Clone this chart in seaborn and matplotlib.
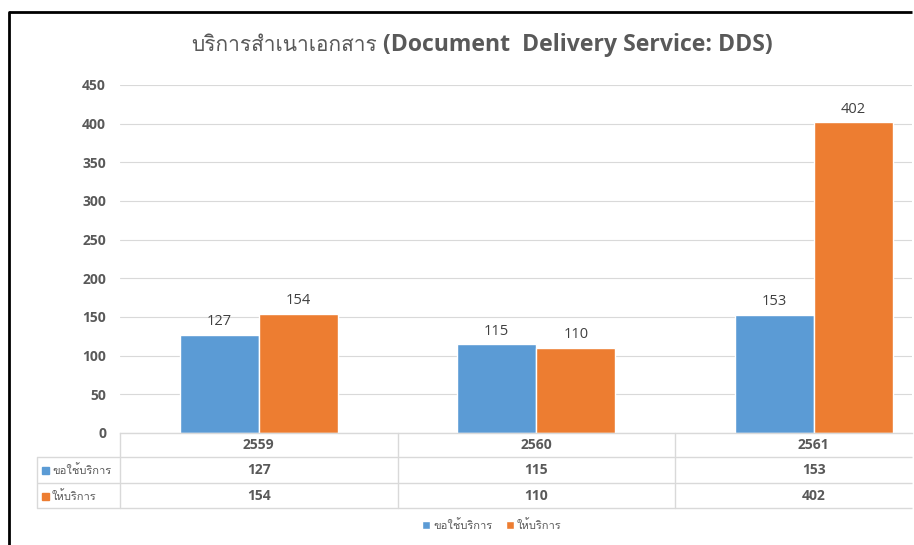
import matplotlib
matplotlib.use('Agg')
import matplotlib.pyplot as plt
import pandas as pd
import seaborn as sns
from matplotlib import font_manager
from matplotlib.ft2font import FT2Font
from matplotlib.lines import Line2D
from matplotlib.patches import Patch
from matplotlib.transforms import blended_transform_factory

# data
years = ['2559', '2560', '2561']
requested = [127, 115, 153]
provided = [154, 110, 402]
series_names = ['ขอใช้บริการ', 'ให้บริการ']
title_th = 'บริการสำเนาเอกสาร'
title_en = '(Document  Delivery Service: DDS)'
y_ticks = [0, 50, 100, 150, 200, 250, 300, 350, 400, 450]

BLUE = '#5B9BD5'
ORANGE = '#ED7D31'
TEXT = '#595959'
GRID = '#D9D9D9'


def has_thai(path):
    try:
        return 0x0E1A in FT2Font(path).get_charmap()
    except Exception:
        return False


thai_fonts = []
for f in font_manager.fontManager.ttflist:
    if f.name not in thai_fonts and has_thai(f.fname):
        thai_fonts.append(f.name)

sns.set_theme(style='white')
families = ['Open Sans'] + thai_fonts[:1] + ['DejaVu Sans']
plt.rcParams['font.family'] = families
th_family = thai_fonts[:1] + ['DejaVu Sans']

W, H = 914, 545
RIGHT = 912  # last pixel column used by lines


def fx(px):
    return px / W


def fy(py):
    return 1 - py / H


data = pd.DataFrame({
    'year': years * 2,
    'value': requested + provided,
    'series': [series_names[0]] * 3 + [series_names[1]] * 3,
})

fig = plt.figure(figsize=(9.14, 5.45), dpi=100)
# plot area runs past the right edge of the picture in the reference,
# so keep the axes inside the figure and trim the x range instead
ax = fig.add_axes([fx(120), fy(433), (RIGHT - 120) / W, (433 - 85) / H])

sns.barplot(data=data, x='year', y='value', hue='series', order=years,
            hue_order=series_names, palette=[BLUE, ORANGE], width=0.57,
            saturation=1, legend=False, ax=ax)

for cont in ax.containers:
    ax.bar_label(cont, padding=4, fontsize=10.5, color='#404040')

ax.set_xlim(-0.5, -0.5 + (RIGHT - 120) / 277.5)
ax.set_ylim(0, 450)
ax.set_yticks(y_ticks)
ax.set_yticklabels([str(t) for t in y_ticks], fontsize=10, color=TEXT,
                   fontweight='bold')
ax.tick_params(axis='y', length=0, pad=10)
ax.set_xticks([])
ax.set_xlabel('')
ax.set_ylabel('')
ax.yaxis.grid(True, color=GRID, linewidth=0.8)
ax.set_axisbelow(True)
for side in ['top', 'right', 'left']:
    ax.spines[side].set_visible(False)
ax.spines['bottom'].set_color(GRID)
ax.spines['bottom'].set_linewidth(1)

# data table under the plot
trans = blended_transform_factory(ax.transData, fig.transFigure)
row_mid = [445, 470, 496]
for i, yr in enumerate(years):
    fig.text(i, fy(row_mid[0]), yr, transform=trans, ha='center', va='center',
             fontsize=10, fontweight='bold', color=TEXT)
    fig.text(i, fy(row_mid[1]), str(requested[i]), transform=trans,
             ha='center', va='center', fontsize=10, fontweight='bold', color=TEXT)
    fig.text(i, fy(row_mid[2]), str(provided[i]), transform=trans,
             ha='center', va='center', fontsize=10, fontweight='bold', color=TEXT)

for py in [457, 483, 508]:
    fig.add_artist(Line2D([fx(37), fx(RIGHT)], [fy(py), fy(py)], color=GRID,
                          lw=1, solid_capstyle='butt'))
fig.add_artist(Line2D([fx(37), fx(37)], [fy(457), fy(508)], color=GRID, lw=1))
for px in [120, 398, 675]:
    fig.add_artist(Line2D([fx(px), fx(px)], [fy(433), fy(508)], color=GRID, lw=1))

for k, (name, col) in enumerate(zip(series_names, [BLUE, ORANGE])):
    y = fy(row_mid[k + 1])
    fig.add_artist(plt.Rectangle((fx(42), y - 3.5 / H), 7 / W, 7 / H,
                                 color=col, transform=fig.transFigure))
    fig.text(fx(52), y, name, ha='left', va='center', fontsize=8,
             color=TEXT, family=th_family)

# legend
handles = [Patch(facecolor=BLUE), Patch(facecolor=ORANGE)]
fig.legend(handles, series_names, loc='center', ncol=2, frameon=False,
           bbox_to_anchor=(fx(492), fy(525)), handlelength=0.7,
           handleheight=0.7, handletextpad=0.3, columnspacing=1.2,
           prop={'family': th_family, 'size': 8}, labelcolor=TEXT)

# title
fig.text(fx(377), fy(51), title_th, ha='right', va='baseline', fontsize=15,
         color=TEXT, family=th_family)
fig.text(fx(383), fy(51), title_en, ha='left', va='baseline', fontsize=16.6,
         color=TEXT, fontweight='bold')

# outer frame (left and top edges only)
fig.add_artist(Line2D([fx(9), fx(9)], [fy(545), fy(12)], color='black', lw=2))
fig.add_artist(Line2D([fx(9), fx(RIGHT)], [fy(12), fy(12)], color='black', lw=2,
                      solid_capstyle='butt'))

fig.savefig('out.png', dpi=100)
